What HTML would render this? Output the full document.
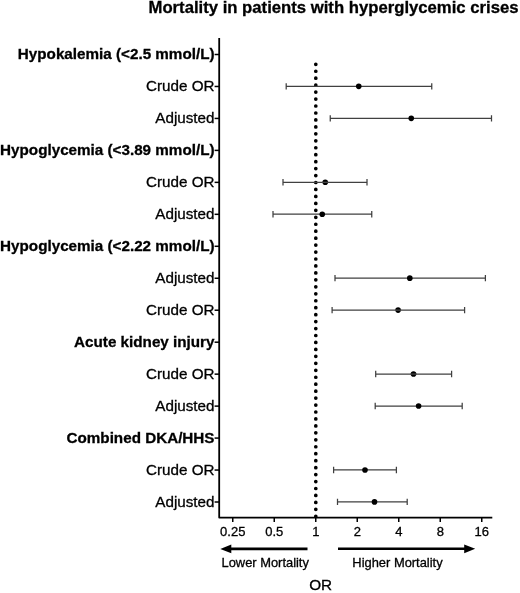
<!DOCTYPE html>
<html><head><meta charset="utf-8"><title>Mortality in patients with hyperglycemic crises</title>
<style>
html,body{margin:0;padding:0;background:#fff;}
svg{display:block;font-family:"Liberation Sans",Arial,sans-serif;}
text{stroke:#000;stroke-width:0.3px;paint-order:stroke;}
.b{font-weight:bold;}
</style></head><body>
<svg width="520" height="593" viewBox="0 0 520 593">
<rect width="520" height="593" fill="#fff"/>
<text x="333.5" y="13.4" text-anchor="middle" class="b" font-size="16.7" fill="#000">Mortality in patients with hyperglycemic crises</text>
<g stroke="#000" stroke-width="1.5" fill="none">
<path d="M219.2 38 V517.6 H492.3" stroke-width="1.8" stroke-linejoin="round"/>
<path d="M214.6 54.50 H219.2" stroke-width="1.5"/>
<path d="M214.6 86.47 H219.2" stroke-width="1.5"/>
<path d="M214.6 118.43 H219.2" stroke-width="1.5"/>
<path d="M214.6 150.39 H219.2" stroke-width="1.5"/>
<path d="M214.6 182.36 H219.2" stroke-width="1.5"/>
<path d="M214.6 214.32 H219.2" stroke-width="1.5"/>
<path d="M214.6 246.29 H219.2" stroke-width="1.5"/>
<path d="M214.6 278.25 H219.2" stroke-width="1.5"/>
<path d="M214.6 310.22 H219.2" stroke-width="1.5"/>
<path d="M214.6 342.19 H219.2" stroke-width="1.5"/>
<path d="M214.6 374.15 H219.2" stroke-width="1.5"/>
<path d="M214.6 406.12 H219.2" stroke-width="1.5"/>
<path d="M214.6 438.08 H219.2" stroke-width="1.5"/>
<path d="M214.6 470.05 H219.2" stroke-width="1.5"/>
<path d="M214.6 502.01 H219.2" stroke-width="1.5"/>
<path d="M232.75 517.6 V522.0"/>
<path d="M274.25 517.6 V522.0"/>
<path d="M315.75 517.6 V522.0"/>
<path d="M357.25 517.6 V522.0"/>
<path d="M398.75 517.6 V522.0"/>
<path d="M440.25 517.6 V522.0"/>
<path d="M481.75 517.6 V522.0"/>
</g>
<path d="M315.8 64.3 V517" stroke="#000" stroke-width="3.7" stroke-linecap="round" stroke-dasharray="0 6.954" fill="none"/>
<g font-size="13" text-anchor="middle" fill="#000">
<text x="232.75" y="535.7">0.25</text>
<text x="274.25" y="535.7">0.5</text>
<text x="315.75" y="535.7">1</text>
<text x="357.25" y="535.7">2</text>
<text x="398.75" y="535.7">4</text>
<text x="440.25" y="535.7">8</text>
<text x="481.75" y="535.7">16</text>
</g>
<g font-size="15.22" text-anchor="end" fill="#000">
<text x="214.5" y="59.40" class="b">Hypokalemia (&lt;2.5 mmol/L)</text>
<text x="214.5" y="91.37">Crude OR</text>
<text x="214.5" y="123.33">Adjusted</text>
<text x="214.5" y="155.29" class="b">Hypoglycemia (&lt;3.89 mmol/L)</text>
<text x="214.5" y="187.26">Crude OR</text>
<text x="214.5" y="219.22">Adjusted</text>
<text x="214.5" y="251.19" class="b">Hypoglycemia (&lt;2.22 mmol/L)</text>
<text x="214.5" y="283.15">Adjusted</text>
<text x="214.5" y="315.12">Crude OR</text>
<text x="214.5" y="347.08" class="b">Acute kidney injury</text>
<text x="214.5" y="379.05">Crude OR</text>
<text x="214.5" y="411.01">Adjusted</text>
<text x="214.5" y="442.98" class="b">Combined DKA/HHS</text>
<text x="214.5" y="474.94">Crude OR</text>
<text x="214.5" y="506.91">Adjusted</text>
</g>
<g stroke="#404040" stroke-width="1.25" fill="none">
<path d="M286.2 86.37 H431.75 M286.2 83.17 V89.57 M431.75 83.17 V89.57"/>
<path d="M330.25 118.33 H491.5 M330.25 115.13 V121.53 M491.5 115.13 V121.53"/>
<path d="M283 182.26 H367 M283 179.06 V185.46 M367 179.06 V185.46"/>
<path d="M273 214.22 H371.75 M273 211.03 V217.42 M371.75 211.03 V217.42"/>
<path d="M335 278.15 H485.4 M335 274.95 V281.35 M485.4 274.95 V281.35"/>
<path d="M332.1 310.12 H464.6 M332.1 306.92 V313.32 M464.6 306.92 V313.32"/>
<path d="M375.7 374.05 H451.6 M375.7 370.85 V377.25 M451.6 370.85 V377.25"/>
<path d="M375.2 406.01 H462.2 M375.2 402.81 V409.21 M462.2 402.81 V409.21"/>
<path d="M333.6 469.94 H396.4 M333.6 466.75 V473.14 M396.4 466.75 V473.14"/>
<path d="M337.5 501.91 H407.2 M337.5 498.71 V505.11 M407.2 498.71 V505.11"/>
</g>
<g fill="#000">
<circle cx="358.75" cy="86.37" r="2.8"/>
<circle cx="411.25" cy="118.33" r="2.8"/>
<circle cx="325.25" cy="182.26" r="2.8"/>
<circle cx="322.25" cy="214.22" r="2.8"/>
<circle cx="409.8" cy="278.15" r="2.8"/>
<circle cx="398.1" cy="310.12" r="2.8"/>
<circle cx="413.5" cy="374.05" r="2.8"/>
<circle cx="418.6" cy="406.01" r="2.8"/>
<circle cx="365" cy="469.94" r="2.8"/>
<circle cx="374.5" cy="501.91" r="2.8"/>
</g>
<g stroke="#5a5a5a" stroke-width="1" fill="none">
<path d="M322.05 182.26 H328.45"/>
<path d="M394.90 310.12 H401.30"/>
<path d="M410.30 374.05 H416.70"/>
</g>
<g fill="#000" stroke="none">
<path d="M220.3 548.9 L231.3 544.5 V547.6 H307.5 V550.2 H231.3 V553.3 Z"/>
<path d="M475.2 548.8 L464.2 544.4 V547.5 H338 V550.1 H464.2 V553.2 Z"/>
</g>
<text x="221.5" y="567.2" font-size="12.9" fill="#000">Lower Mortality</text>
<text x="352.35" y="567.2" font-size="12.9" fill="#000">Higher Mortality</text>
<text x="320.7" y="590.4" font-size="15.3" text-anchor="middle" fill="#000">OR</text>
</svg>
</body></html>
